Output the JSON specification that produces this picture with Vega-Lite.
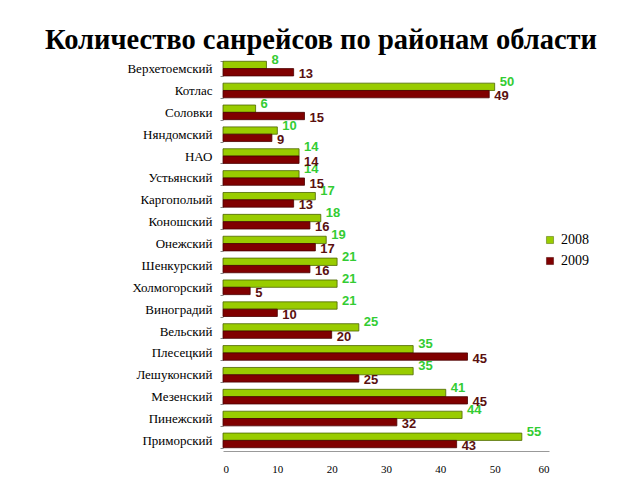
{
  "$schema": "https://vega.github.io/schema/vega-lite/v6.json",
  "autosize": "none",
  "width": 326,
  "height": 393,
  "padding": {"left": 223, "top": 58, "right": 91, "bottom": 29},
  "background": "white",
  "title": {
    "text": "Количество санрейсов по районам области",
    "font": "Liberation Serif",
    "fontSize": 28.5,
    "fontWeight": "bold",
    "color": "#000000",
    "anchor": "middle",
    "frame": "group",
    "dx": -65,
    "dy": 6,
    "offset": 4
  },
  "data": {
    "values": [
      {"district": "Верхетоемский", "year": "2008", "value": 8},
      {"district": "Верхетоемский", "year": "2009", "value": 13},
      {"district": "Котлас", "year": "2008", "value": 50},
      {"district": "Котлас", "year": "2009", "value": 49},
      {"district": "Соловки", "year": "2008", "value": 6},
      {"district": "Соловки", "year": "2009", "value": 15},
      {"district": "Няндомский", "year": "2008", "value": 10},
      {"district": "Няндомский", "year": "2009", "value": 9},
      {"district": "НАО", "year": "2008", "value": 14},
      {"district": "НАО", "year": "2009", "value": 14},
      {"district": "Устьянский", "year": "2008", "value": 14},
      {"district": "Устьянский", "year": "2009", "value": 15},
      {"district": "Каргопольий", "year": "2008", "value": 17},
      {"district": "Каргопольий", "year": "2009", "value": 13},
      {"district": "Коношский", "year": "2008", "value": 18},
      {"district": "Коношский", "year": "2009", "value": 16},
      {"district": "Онежский", "year": "2008", "value": 19},
      {"district": "Онежский", "year": "2009", "value": 17},
      {"district": "Шенкурский", "year": "2008", "value": 21},
      {"district": "Шенкурский", "year": "2009", "value": 16},
      {"district": "Холмогорский", "year": "2008", "value": 21},
      {"district": "Холмогорский", "year": "2009", "value": 5},
      {"district": "Виноградий", "year": "2008", "value": 21},
      {"district": "Виноградий", "year": "2009", "value": 10},
      {"district": "Вельский", "year": "2008", "value": 25},
      {"district": "Вельский", "year": "2009", "value": 20},
      {"district": "Плесецкий", "year": "2008", "value": 35},
      {"district": "Плесецкий", "year": "2009", "value": 45},
      {"district": "Лешуконский", "year": "2008", "value": 35},
      {"district": "Лешуконский", "year": "2009", "value": 25},
      {"district": "Мезенский", "year": "2008", "value": 41},
      {"district": "Мезенский", "year": "2009", "value": 45},
      {"district": "Пинежский", "year": "2008", "value": 44},
      {"district": "Пинежский", "year": "2009", "value": 32},
      {"district": "Приморский", "year": "2008", "value": 55},
      {"district": "Приморский", "year": "2009", "value": 43}
    ]
  },
  "encoding": {
    "y": {
      "field": "district",
      "type": "nominal",
      "sort": null,
      "scale": {"paddingInner": 0.33, "paddingOuter": 0.15},
      "axis": {
        "title": null,
        "domain": false,
        "ticks": true,
        "tickBand": "extent",
        "tickSize": 3,
        "tickColor": "#888888",
        "labelFont": "Liberation Serif",
        "labelFontSize": 13,
        "labelColor": "#000000",
        "labelPadding": 8
      }
    },
    "x": {
      "field": "value",
      "type": "quantitative",
      "scale": {"domain": [0, 60], "nice": false},
      "axis": {
        "title": null,
        "grid": false,
        "values": [0, 10, 20, 30, 40, 50, 60],
        "domainColor": "#999999",
        "ticks": false,
        "labelFont": "Liberation Serif",
        "labelFontSize": 11,
        "labelColor": "#000000",
        "labelPadding": 12
      }
    },
    "yOffset": {"field": "year", "type": "nominal", "scale": {"paddingInner": 0}}
  },
  "layer": [
    {
      "mark": {"type": "bar", "strokeWidth": 0.8},
      "encoding": {
        "color": {
          "field": "year",
          "type": "nominal",
          "scale": {"domain": ["2008", "2009"], "range": ["#99cc00", "#800000"]},
          "legend": {
            "title": null,
            "orient": "none",
            "legendX": 320,
            "legendY": 175,
            "symbolType": "square",
            "symbolSize": 50,
            "symbolStrokeWidth": 0.5,
            "labelFont": "Liberation Serif",
            "labelFontSize": 14,
            "labelColor": "#000000",
            "rowPadding": 7
          }
        },
        "stroke": {
          "field": "year",
          "type": "nominal",
          "scale": {"domain": ["2008", "2009"], "range": ["#4d6600", "#4a0000"]},
          "legend": null
        }
      }
    },
    {
      "transform": [{"filter": "datum.year == '2008'"}],
      "mark": {"type": "text", "align": "left", "baseline": "middle", "dx": 5, "dy": -5, "font": "Liberation Sans", "fontSize": 13, "fontWeight": "bold", "color": "#33cc33"},
      "encoding": {"text": {"field": "value", "type": "quantitative"}}
    },
    {
      "transform": [{"filter": "datum.year == '2009'"}],
      "mark": {"type": "text", "align": "left", "baseline": "middle", "dx": 5, "dy": 2, "font": "Liberation Sans", "fontSize": 13, "fontWeight": "bold", "color": "#5a1010"},
      "encoding": {"text": {"field": "value", "type": "quantitative"}}
    }
  ],
  "config": {"view": {"stroke": null}}
}
